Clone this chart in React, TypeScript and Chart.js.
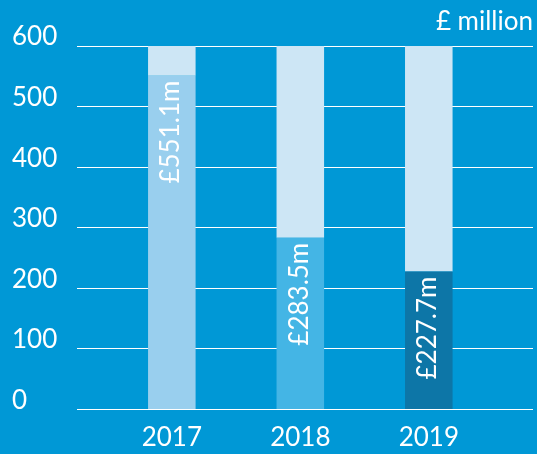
import React, { useEffect, useRef } from 'react';
import { Chart, registerables } from 'chart.js';

Chart.register(...registerables);

const years = [2017, 2018, 2019];
const values = [551.1, 283.5, 227.7];
const capacity = [600, 600, 600];
const valueLabels = ['£551.1m', '£283.5m', '£227.7m'];
const unitLabel = '£ million';
const yMax = 600;
const yStep = 100;

const barColors = ['#99cfee', '#44b5e5', '#0d76a7'];
const remainderColor = '#cde6f5';
const bgColor = '#0098d6';
const FONT = 'Lato, "Open Sans", sans-serif';

const labelPlugin = {
  id: 'valueLabels',
  afterDatasetsDraw(chart: any) {
    const ctx = chart.ctx;
    const meta = chart.getDatasetMeta(0);
    ctx.save();
    ctx.fillStyle = '#ffffff';
    ctx.font = `26px ${FONT}`;
    meta.data.forEach((bar: any, i: number) => {
      ctx.save();
      ctx.translate(bar.x - 1, bar.y + 5);
      ctx.rotate(-Math.PI / 2);
      ctx.textAlign = 'right';
      ctx.textBaseline = 'middle';
      ctx.fillText(valueLabels[i], 0, 0);
      ctx.restore();
    });
    ctx.font = `26px ${FONT}`;
    ctx.textAlign = 'right';
    ctx.textBaseline = 'alphabetic';
    ctx.fillText(unitLabel, chart.width - 4, chart.chartArea.top - 16);
    ctx.restore();
  },
};

export default function App() {
  const ref = useRef<HTMLCanvasElement>(null);
  useEffect(() => {
    document.body.style.margin = '0';
    document.body.style.background = bgColor;
    const remainder = capacity.map((c, i) => +(c - values[i]).toFixed(1));
    const chart = new Chart(ref.current!, {
      type: 'bar',
      data: {
        datasets: [
          {
            data: years.map((yr, i) => ({ x: yr, y: values[i] })),
            backgroundColor: barColors,
            barPercentage: 0.37,
            categoryPercentage: 1,
          },
          {
            data: years.map((yr, i) => ({ x: yr, y: remainder[i] })),
            backgroundColor: remainderColor,
            barPercentage: 0.37,
            categoryPercentage: 1,
          },
        ],
      },
      options: {
        animation: false,
        responsive: false,
        layout: { padding: { left: 12, top: 46, right: 4, bottom: 0 } },
        plugins: { legend: { display: false }, tooltip: { enabled: false } },
        scales: {
          x: {
            type: 'linear',
            stacked: true,
            offset: false,
            min: years[0] - 0.738,
            max: years[years.length - 1] + 0.811,
            grid: { display: false, drawTicks: false, tickLength: 0, offset: false },
            border: { display: false },
            afterBuildTicks: (s: any) => {
              s.ticks = years.map((v) => ({ value: v }));
            },
            afterFit: (s: any) => {
              s.height = 44.5;
            },
            ticks: {
              color: '#ffffff',
              font: { family: FONT, size: 26 },
              padding: 13,
              maxRotation: 0,
              autoSkip: false,
              callback: (v: any) => String(v),
            },
          },
          y: {
            stacked: true,
            min: 0,
            max: yMax,
            grid: { color: '#ffffff', lineWidth: 1, drawTicks: false, tickLength: 0 },
            border: { display: false },
            afterFit: (s: any) => {
              s.width = 65;
            },
            ticks: {
              stepSize: yStep,
              color: '#ffffff',
              font: { family: FONT, size: 26 },
              crossAlign: 'far',
              padding: 20,
              labelOffset: -9,
            },
          },
        },
      },
      plugins: [labelPlugin],
    } as any);
    return () => chart.destroy();
  }, []);
  return (
    <div style={{ width: 537, height: 454, background: bgColor }}>
      <canvas ref={ref} width={537} height={454} />
    </div>
  );
}
